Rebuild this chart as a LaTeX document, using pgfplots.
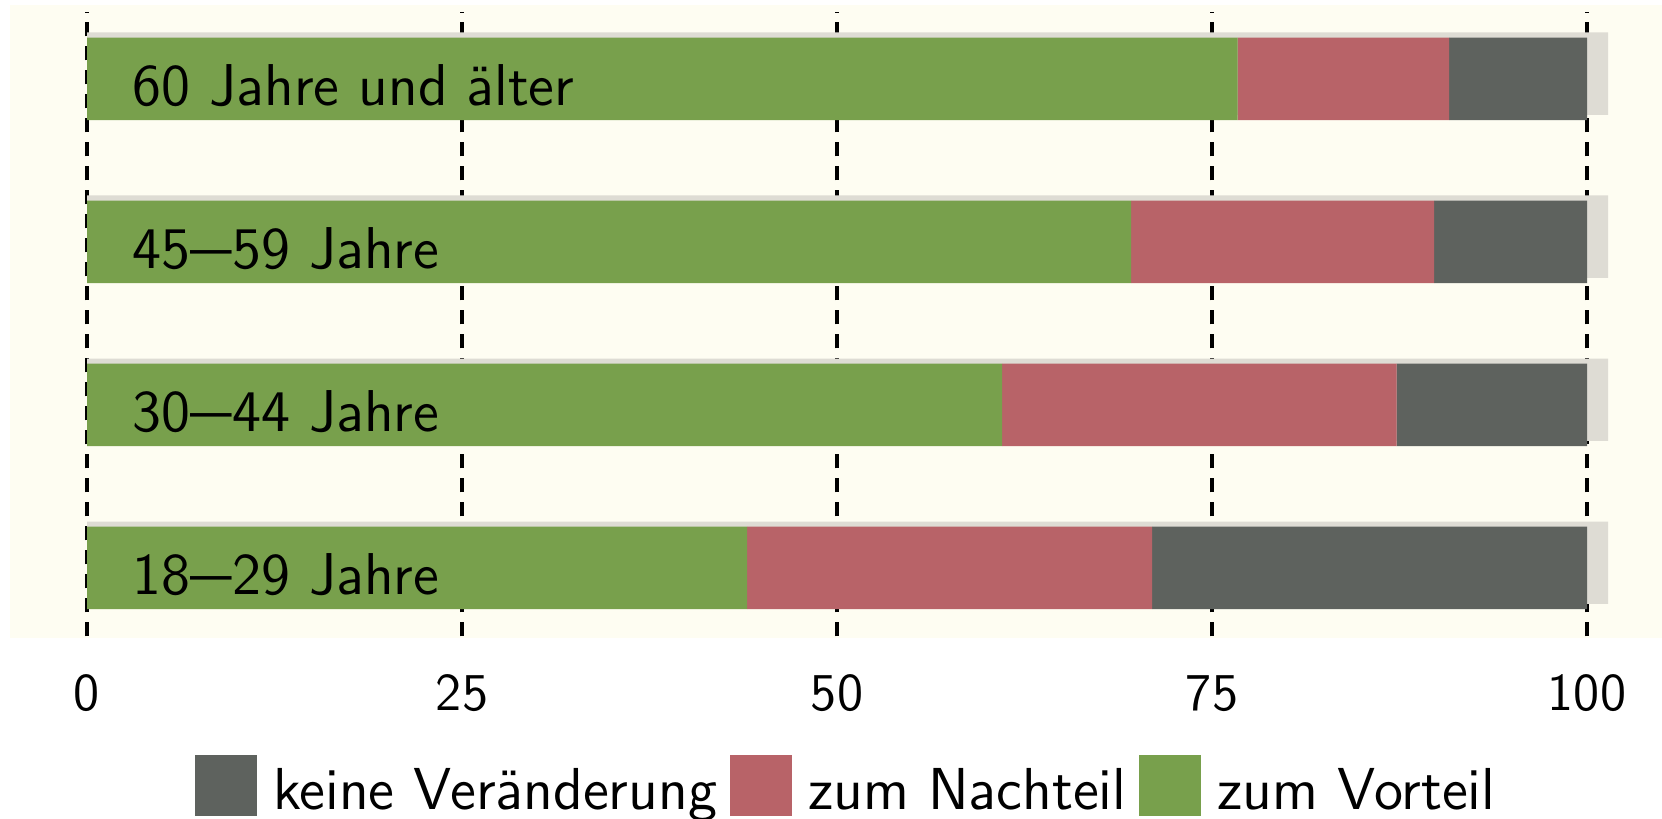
\documentclass[border=0pt]{standalone}
\usepackage{fontspec}
\usepackage{graphicx}
\usepackage{pgfplots}
\pgfplotsset{compat=1.18}
\renewcommand{\familydefault}{\sfdefault}
\definecolor{cream}{RGB}{254,253,242}
\definecolor{bggray}{RGB}{222,220,212}
\definecolor{cgreen}{RGB}{120,160,76}
\definecolor{cred}{RGB}{184,99,104}
\definecolor{cdark}{RGB}{94,98,94}
\newcommand{\dsh}{\scalebox{0.72}[1]{---}}
\tikzset{barlab/.style={anchor=base west, inner sep=0pt, font=\fontsize{14.75}{17}\selectfont, yshift=-6.6pt}}
\begin{document}
\begin{tikzpicture}
\useasboundingbox (0,0) rectangle (415.5pt,204.5pt);
\fill[cream] (2.5pt,45pt) rectangle (415.5pt,203.25pt);
\pgfplotsset{common/.style={scale only axis, width=382.5pt, height=156.1pt,
  at={(21.75pt,45.4pt)}, anchor=south west, xmin=0, xmax=102, ymin=-0.42, ymax=3.41}}
\begin{axis}[common, axis line style={draw=none}, xtick={0,25,50,75,100}, ytick=\empty,
  major tick length=0pt, xmajorgrids,
  major grid style={black, line width=0.8pt, dash pattern=on 3.7pt off 2.3pt},
  tick label style={font=\fontsize{13.3}{16}\selectfont},
  /pgf/number format/assume math mode=true,
  xticklabel style={anchor=base, yshift=-18.4pt, inner sep=0pt}]
\addplot[xbar, bar width=20.6pt, bar shift=1.3pt, fill=bggray, draw=none]
  coordinates {(101.4,0) (101.4,1) (101.4,2) (101.4,3)};
\end{axis}
\begin{axis}[common, hide axis, xbar stacked, bar width=20.6pt, reverse legend,
  legend columns=-1,
  legend style={at={(0.4964,-0.3004)}, anchor=south, draw=none, fill=none, inner sep=0pt,
    column sep=0pt, font=\fontsize{14.8}{17}\selectfont, cells={anchor=base west, inner sep=0pt}},
  legend image code/.code={\fill[#1,draw=none] (0pt,-1.75pt) rectangle (15.4pt,13.6pt); \path (-1.3pt,0) (17.5pt,0);}]
\addplot[fill=cgreen, draw=none] coordinates {(44.0,0) (61.0,1) (69.6,2) (76.7,3)};
\addplot[fill=cred, draw=none] coordinates {(27.0,0) (26.3,1) (20.2,2) (14.1,3)};
\addplot[fill=cdark, draw=none] coordinates {(29.0,0) (12.7,1) (10.2,2) (9.2,3)};
\legend{zum Vorteil, zum Nachteil, keine Veränderung}
\coordinate (L3) at (axis cs:3,3);
\coordinate (L2) at (axis cs:3,2);
\coordinate (L1) at (axis cs:3,1);
\coordinate (L0) at (axis cs:3,0);
\end{axis}
\node[barlab] at (L3) {60 Jahre und älter};
\node[barlab] at (L2) {45\dsh59 Jahre};
\node[barlab] at (L1) {30\dsh44 Jahre};
\node[barlab] at (L0) {18\dsh29 Jahre};
\end{tikzpicture}
\end{document}
